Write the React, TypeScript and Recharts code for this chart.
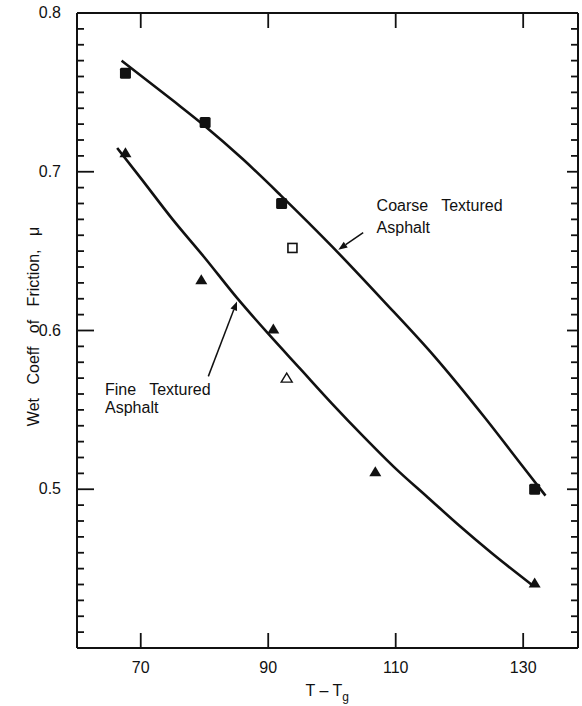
import React from "react";
import { ComposedChart, Line, Scatter, XAxis, YAxis, ReferenceLine, ReferenceDot } from "recharts";

const INK = "#111";
const FONT = "'Liberation Sans', Arial, sans-serif";

// axes
const xTicks = [70, 90, 110, 130];
const yMajor = [0.5, 0.6, 0.7, 0.8];
const yTicks = Array.from({ length: 41 }, (_, i) => (40 + i) / 100);

// measured points, T - Tg vs mu
const coarseX = [67.6, 80.1, 92.1, 131.8];
const coarseMu = [0.762, 0.731, 0.68, 0.5];
const coarseOpenX = [93.8];
const coarseOpenMu = [0.652];
const fineX = [67.6, 79.5, 90.8, 106.8, 131.8];
const fineMu = [0.712, 0.632, 0.601, 0.511, 0.441];
const fineOpenX = [92.9];
const fineOpenMu = [0.57];

// faired curves
const coarseCurveX = [67, 75, 80, 86, 92, 100, 108, 116, 124, 130, 133.5];
const coarseCurveMu = [0.77, 0.745, 0.729, 0.708, 0.685, 0.653, 0.619, 0.584, 0.545, 0.514, 0.496];
const fineCurveX = [66.3, 70, 75, 80, 85, 90, 95, 100, 105, 110, 115, 120, 125, 131.3];
const fineCurveMu = [0.715, 0.696, 0.67, 0.646, 0.621, 0.598, 0.576, 0.554, 0.533, 0.513, 0.495, 0.477, 0.46, 0.44];

const pts = (xs: number[], ys: number[]) => xs.map((x, i) => ({ x, y: ys[i] }));

const isMajor = (v: number) => yMajor.some((m) => Math.abs(m - v) < 1e-6);

const LeftTick = ({ x, y, payload }: any) => {
  const major = isMajor(payload.value);
  return (
    <g>
      <line x1={x} y1={y} x2={x + (major ? 17 : 7)} y2={y} stroke={INK} strokeWidth={1.8} />
      {major && (
        <text x={x - 16} y={y + 5} textAnchor="end" fontSize={16} fontFamily={FONT} fill={INK}>
          {payload.value.toFixed(1)}
        </text>
      )}
    </g>
  );
};

const RightTick = ({ x, y, payload }: any) => {
  const major = isMajor(payload.value);
  return <line x1={x} y1={y} x2={x - (major ? 11 : 7)} y2={y} stroke={INK} strokeWidth={1.8} />;
};

const BottomTick = ({ x, y, payload }: any) => (
  <g>
    <line x1={x} y1={y} x2={x} y2={y - 15} stroke={INK} strokeWidth={1.8} />
    <text x={x} y={y + 25} textAnchor="middle" fontSize={16} fontFamily={FONT} fill={INK}>
      {payload.value}
    </text>
  </g>
);

const TopTick = ({ x, y }: any) => <line x1={x} y1={y} x2={x} y2={y + 15} stroke={INK} strokeWidth={1.8} />;

const FilledSquare = ({ cx, cy }: any) => (
  <rect x={cx - 5.5} y={cy - 5.5} width={11} height={11} rx={1.5} fill={INK} />
);
const OpenSquare = ({ cx, cy }: any) => (
  <rect x={cx - 4.5} y={cy - 4.5} width={9} height={9} fill="#fff" stroke={INK} strokeWidth={1.6} />
);
const FilledTri = ({ cx, cy }: any) => (
  <polygon points={`${cx},${cy - 5.5} ${cx + 6},${cy + 4.5} ${cx - 6},${cy + 4.5}`} fill={INK} />
);
const OpenTri = ({ cx, cy }: any) => (
  <polygon
    points={`${cx},${cy - 5} ${cx + 5.5},${cy + 4} ${cx - 5.5},${cy + 4}`}
    fill="#fff"
    stroke={INK}
    strokeWidth={1.4}
  />
);

const Arrow = ({ x1, y1, x2, y2 }: any) => {
  const a = Math.atan2(y2 - y1, x2 - x1);
  const L = 9;
  const w = 3.5;
  const bx = x2 - L * Math.cos(a);
  const by = y2 - L * Math.sin(a);
  const px = -Math.sin(a) * w;
  const py = Math.cos(a) * w;
  return (
    <g>
      <line x1={x1} y1={y1} x2={bx} y2={by} stroke={INK} strokeWidth={1.5} />
      <polygon points={`${x2},${y2} ${bx + px},${by + py} ${bx - px},${by - py}`} fill={INK} />
    </g>
  );
};

const note = (lines: string[], spacing: number) => ({ cx, cy }: any) => (
  <text x={cx} y={cy} fontSize={16} fontFamily={FONT} fill={INK} style={{ whiteSpace: "pre" }}>
    {lines.map((l, i) => (
      <tspan key={i} x={cx} dy={i === 0 ? 5 : spacing}>
        {l}
      </tspan>
    ))}
  </text>
);

const XTitle = ({ viewBox }: any) => (
  <text x={viewBox.x + viewBox.width / 2 - 22} y={viewBox.y + 48} fontSize={16} fontFamily={FONT} fill={INK}>
    T – T
    <tspan dy={5} fontSize={12}>g</tspan>
  </text>
);

const YTitle = ({ viewBox }: any) => {
  const x = 39;
  const y = viewBox.y + viewBox.height / 2 - 4;
  return (
    <text
      x={x}
      y={y}
      transform={`rotate(-90 ${x} ${y})`}
      textAnchor="middle"
      fontSize={16}
      fontFamily={FONT}
      fill={INK}
      style={{ wordSpacing: 9 }}
    >
      Wet Coeff of Friction, μ
    </text>
  );
};

export default function App() {
  return (
    <div style={{ position: "absolute", left: 0, top: 0, background: "#fff" }}>
      <ComposedChart width={582} height={706} margin={{ top: 12, right: 3, bottom: 57, left: 76 }}>
        <XAxis
          dataKey="x"
          type="number"
          domain={[60, 138.6]}
          ticks={xTicks}
          interval={0}
          allowDataOverflow
          height={1}
          tickSize={0}
          tickMargin={0}
          tick={BottomTick}
          axisLine={{ stroke: INK, strokeWidth: 2 }}
          label={<XTitle />}
        />
        <XAxis
          xAxisId="top"
          orientation="top"
          dataKey="x"
          type="number"
          domain={[60, 138.6]}
          ticks={xTicks}
          interval={0}
          allowDataOverflow
          height={1}
          tickSize={0}
          tickMargin={0}
          tick={TopTick}
          axisLine={{ stroke: INK, strokeWidth: 2 }}
        />
        <YAxis
          type="number"
          domain={[0.4, 0.8]}
          ticks={yTicks}
          interval={0}
          allowDataOverflow
          width={1}
          tickSize={0}
          tickMargin={0}
          tick={LeftTick}
          axisLine={{ stroke: INK, strokeWidth: 2 }}
          label={<YTitle />}
        />
        <YAxis
          yAxisId="right"
          orientation="right"
          type="number"
          domain={[0.4, 0.8]}
          ticks={yTicks}
          interval={0}
          allowDataOverflow
          width={1}
          tickSize={0}
          tickMargin={0}
          tick={RightTick}
          axisLine={{ stroke: INK, strokeWidth: 2 }}
        />

        <Line
          data={pts(coarseCurveX, coarseCurveMu)}
          dataKey="y"
          type="monotone"
          stroke={INK}
          strokeWidth={2.6}
          dot={false}
          isAnimationActive={false}
        />
        <Line
          data={pts(fineCurveX, fineCurveMu)}
          dataKey="y"
          type="monotone"
          stroke={INK}
          strokeWidth={2.6}
          dot={false}
          isAnimationActive={false}
        />

        <Scatter data={pts(coarseX, coarseMu)} dataKey="y" shape={FilledSquare} isAnimationActive={false} />
        <Scatter data={pts(coarseOpenX, coarseOpenMu)} dataKey="y" shape={OpenSquare} isAnimationActive={false} />
        <Scatter data={pts(fineX, fineMu)} dataKey="y" shape={FilledTri} isAnimationActive={false} />
        <Scatter data={pts(fineOpenX, fineOpenMu)} dataKey="y" shape={OpenTri} isAnimationActive={false} />

        <ReferenceLine
          segment={[
            { x: 104.9, y: 0.6617 },
            { x: 101.0, y: 0.6508 },
          ]}
          shape={Arrow}
          ifOverflow="visible"
        />
        <ReferenceLine
          segment={[
            { x: 80.6, y: 0.5711 },
            { x: 85.1, y: 0.6183 },
          ]}
          shape={Arrow}
          ifOverflow="visible"
        />
        <ReferenceDot
          x={107.0}
          y={0.6785}
          r={0}
          ifOverflow="visible"
          shape={note(["Coarse   Textured", "Asphalt"], 22)}
        />
        <ReferenceDot
          x={64.4}
          y={0.5627}
          r={0}
          ifOverflow="visible"
          shape={note(["Fine   Textured", "Asphalt"], 18)}
        />
      </ComposedChart>
    </div>
  );
}
